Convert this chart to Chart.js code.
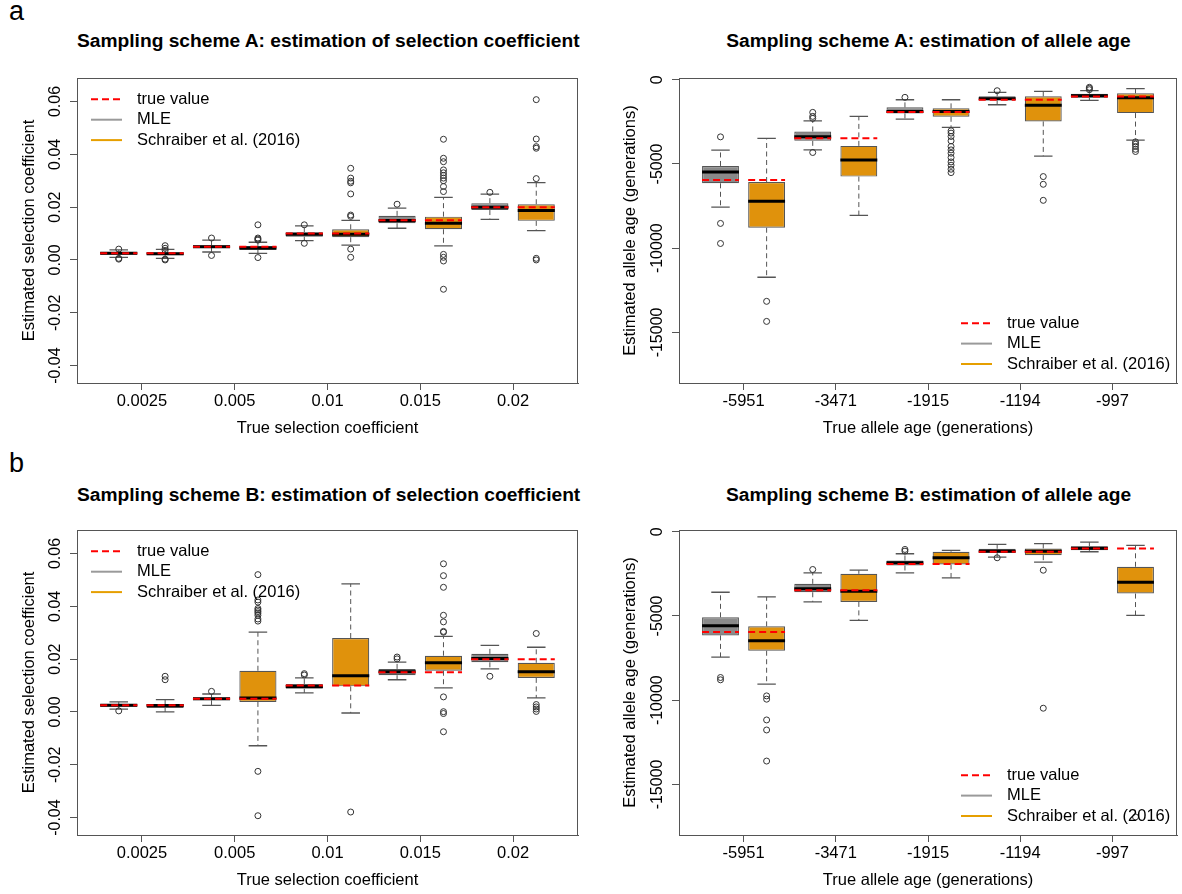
<!DOCTYPE html>
<html>
<head>
<meta charset="utf-8">
<title>Sampling schemes A and B</title>
<script src="https://cdn.jsdelivr.net/npm/chart.js@4.4.0/dist/chart.umd.min.js"></script>
<style>
  html, body { margin: 0; padding: 0; background: #fff; overflow: hidden; }
  #fig { position: relative; width: 1182px; height: 894px; overflow: hidden; font-family: "Liberation Sans", Arial, Helvetica, sans-serif; color: #000; }
  .letter { position: absolute; font-size: 27px; line-height: 27px; }
  .title { position: absolute; font-weight: bold; font-size: 19.2px; line-height: 22px; text-align: center; white-space: nowrap; }
  canvas { position: absolute; }
</style>
</head>
<body>
<div id="fig">
  <div class="letter" style="left:9px;top:-2px">a</div>
  <div class="letter" style="left:9px;top:450px">b</div>

  <div class="title" style="left:77px;width:501px;top:30px">Sampling scheme A: estimation of selection coefficient</div>
  <div class="title" style="left:679px;width:499px;top:30px">Sampling scheme A: estimation of allele age</div>
  <div class="title" style="left:77px;width:501px;top:484px">Sampling scheme B: estimation of selection coefficient</div>
  <div class="title" style="left:679px;width:499px;top:484px">Sampling scheme B: estimation of allele age</div>

  <canvas id="aSel" width="590" height="400" style="left:0;top:60px"></canvas>
  <canvas id="aAge" width="582" height="400" style="left:600px;top:60px"></canvas>
  <canvas id="bSel" width="590" height="400" style="left:0;top:512px"></canvas>
  <canvas id="bAge" width="582" height="400" style="left:600px;top:512px"></canvas>
</div>

<script>
// Categories and tick labels
const selLabels = ["0.0025", "0.005", "0.01", "0.015", "0.02"]
const ageLabels = ["-5951", "-3471", "-1915", "-1194", "-997"]
const selTrue = [0.0025, 0.005, 0.01, 0.015, 0.02]
const ageTrue = [-5951, -3471, -1915, -1194, -997]
const selTicks = [-0.04, -0.02, 0, 0.02, 0.04, 0.06]
const ageTicks = [-15000, -10000, -5000, 0]

// Box summaries per true value: [lower whisker, Q1, median, Q3, upper whisker]
// Scheme A, selection coefficient
const aSelMle = [
  [0.0010, 0.0020, 0.0025, 0.0030, 0.0038],
  [0.0030, 0.0045, 0.0050, 0.0056, 0.0075],
  [0.0073, 0.0088, 0.0097, 0.0105, 0.0129],
  [0.0120, 0.0139, 0.0149, 0.0167, 0.0196],
  [0.0154, 0.0189, 0.0200, 0.0215, 0.0249],
]
const aSelSch = [
  [0.0006, 0.0018, 0.0023, 0.0028, 0.0040],
  [0.0025, 0.0038, 0.0045, 0.0053, 0.0067],
  [0.0056, 0.0086, 0.0097, 0.0116, 0.0150],
  [0.0053, 0.0116, 0.0139, 0.0164, 0.0237],
  [0.0111, 0.0148, 0.0187, 0.0211, 0.0293],
]
const aSelMleOut = [
  [0.0041, 0.0006, 0.0003],
  [0.0083, 0.0017],
  [0.0133, 0.0063],
  [0.0211],
  [0.0256],
]
const aSelSchOut = [
  [0.0054, 0.0044, 0.0036, 0.0003, 0.0000],
  [0.0133, 0.0083, 0.0079, 0.0075, 0.0009],
  [0.0347, 0.0310, 0.0298, 0.0292, 0.0250, 0.0170, 0.0165, 0.0041, 0.0010],
  [0.0457, 0.0385, 0.0372, 0.0341, 0.0330, 0.0320, 0.0310, 0.0300, 0.0278, 0.0259, 0.0021, 0.0010, -0.0004, -0.0111],
  [0.0607, 0.0458, 0.0429, 0.0423, 0.0308, 0.0006, 0.0000],
]

// Scheme A, allele age
const aAgeMle = [
  [-7559, -6149, -5476, -5119, -4184],
  [-4166, -3631, -3393, -3072, -2440],
  [-2339, -2000, -1881, -1643, -1190],
  [-1488, -1226, -1131, -990, -750],
  [-1226, -1071, -952, -833, -655],
]
const aAgeSch = [
  [-11725, -8785, -7220, -6071, -3488],
  [-8053, -5750, -4762, -3928, -2178],
  [-2833, -2202, -1881, -1702, -1190],
  [-4541, -2476, -1524, -990, -690],
  [-3589, -1982, -1071, -809, -536],
]
const aAgeMleOut = [
  [-3393, -8530, -9720],
  [-1940, -2178, -2297, -4321],
  [-1048],
  [-655],
  [-452, -512, -595],
]
const aAgeSchOut = [
  [-13154, -14344],
  [],
  [-3035, -3172, -3369, -3631, -3964, -4166, -4363, -4619, -4881, -5077, -5315, -5514],
  [-5750, -6208, -7160],
  [-3690, -3820, -3964, -4130, -4262],
]

// Scheme B, selection coefficient
const bSelMle = [
  [0.0011, 0.0020, 0.0025, 0.0029, 0.0038],
  [0.0025, 0.0044, 0.0050, 0.0055, 0.0068],
  [0.0072, 0.0088, 0.0096, 0.0106, 0.0129],
  [0.0122, 0.0139, 0.0152, 0.0163, 0.0189],
  [0.0163, 0.0188, 0.0202, 0.0220, 0.0252],
]
const bSelSch = [
  [0.0000, 0.0015, 0.0024, 0.0030, 0.0047],
  [-0.0128, 0.0038, 0.0053, 0.0156, 0.0302],
  [-0.0004, 0.0097, 0.0137, 0.0280, 0.0485],
  [0.0091, 0.0156, 0.0186, 0.0213, 0.0286],
  [0.0053, 0.0129, 0.0152, 0.0186, 0.0245],
]
const bSelMleOut = [
  [0.0004],
  [0.0078],
  [0.0145, 0.0140],
  [0.0208, 0.0201],
  [0.0135],
]
const bSelSchOut = [
  [0.0135, 0.0122],
  [0.0520, 0.0424, 0.0416, 0.0392, 0.0386, 0.0380, 0.0374, 0.0366, 0.0352, 0.0344, -0.0225, -0.0393],
  [-0.0379],
  [0.0561, 0.0516, 0.0472, 0.0366, 0.0341, 0.0305, 0.0302, 0.0057, 0.0001, -0.0006, -0.0075],
  [0.0297, 0.0028, 0.0019, 0.0011, 0.0002],
]

// Scheme B, allele age
const bAgeMle = [
  [-7440, -6155, -5577, -5083, -3595],
  [-4166, -3595, -3393, -3095, -2440],
  [-2440, -2006, -1845, -1708, -1309],
  [-1512, -1250, -1155, -1012, -756],
  [-1190, -1095, -976, -857, -619],
]
const bAgeSch = [
  [-9048, -7065, -6470, -5618, -3869],
  [-5262, -4166, -3535, -2500, -2286],
  [-2738, -1946, -1547, -1190, -1113],
  [-1809, -1393, -1155, -994, -714],
  [-4964, -3672, -3000, -2083, -815],
]
const bAgeMleOut = [
  [-8654, -8791],
  [-2244],
  [-1054, -1155],
  [-1548],
  [],
]
const bAgeSchOut = [
  [-9744, -9940, -11172, -11767, -13612],
  [],
  [],
  [-2286, -10476],
  [-16928],
]

const legendLabels = ["true value", "MLE", "Schraiber et al. (2016)"]

// Styles
const FONT = "'Liberation Sans', Arial, Helvetica, sans-serif"
const GREY = "#8a8a8a"
const ORANGE = "#E0920C"
const EDGE = "#555555"
const HALF = 0.4 // half box width in x units
const CAP = 0.2 // half whisker cap width

// Box frame + legend drawn R-style
const rPlot = {
  id: "rPlot",
  afterDraw(chart, args, opts) {
    const { ctx, chartArea: a } = chart
    ctx.save()
    ctx.strokeStyle = EDGE
    ctx.lineWidth = 1
    ctx.strokeRect(a.left + 0.5, a.top + 0.5, a.right - a.left - 1, a.bottom - a.top)

    const step = 20.4
    const x0 = opts.corner === "topleft" ? a.left + 14 : a.right - 216
    const y0 = opts.corner === "topleft" ? a.top + 21.3 : a.bottom - 19 - 2 * step
    const styles = [
      { color: "#FF0000", dash: [7, 4] },
      { color: "#9a9a9a", dash: [] },
      { color: "#E69F00", dash: [] },
    ]
    ctx.font = `16.5px ${FONT}`
    ctx.textBaseline = "middle"
    legendLabels.forEach((txt, i) => {
      const y = y0 + i * step
      ctx.beginPath()
      ctx.setLineDash(styles[i].dash)
      ctx.strokeStyle = styles[i].color
      ctx.lineWidth = 2
      ctx.moveTo(x0, y)
      ctx.lineTo(x0 + 31, y)
      ctx.stroke()
      ctx.setLineDash([])
      ctx.fillStyle = "#000"
      ctx.fillText(txt, x0 + 46, y)
    })
    ctx.restore()
  },
}

function buildPanel(id, p) {
  const boxes = [], fills = [], whiskers = [], caps = [], medians = [], truths = [], outliers = []
  p.mle.forEach((m, i) => {
    const pairs = [[m, p.mleOut[i], GREY], [p.sch[i], p.schOut[i], ORANGE]]
    pairs.forEach(([b, out, col], k) => {
      const pos = 2 * i + k + 1
      const [lo, q1, med, q3, hi] = b
      boxes.push({ x: pos, y: [q1, q3] })
      fills.push(col)
      whiskers.push({ x: pos, y: q1 }, { x: pos, y: lo }, { x: pos, y: null },
                    { x: pos, y: q3 }, { x: pos, y: hi }, { x: pos, y: null })
      caps.push({ x: pos - CAP, y: lo }, { x: pos + CAP, y: lo }, { x: pos, y: null },
                { x: pos - CAP, y: hi }, { x: pos + CAP, y: hi }, { x: pos, y: null })
      medians.push({ x: pos - HALF, y: med }, { x: pos + HALF, y: med }, { x: pos, y: null })
      truths.push({ x: pos - HALF, y: p.truth[i] }, { x: pos + HALF, y: p.truth[i] }, { x: pos, y: null })
      out.forEach((v) => outliers.push({ x: pos, y: v }))
    })
  })

  // rotated y labels centred 21.5px left of the axis
  const meas = document.createElement("canvas").getContext("2d")
  meas.font = `16px ${FONT}`
  const widest = Math.max(...p.yTicks.map((v) => meas.measureText(p.fmt(v)).width))
  const yPad = 21.5 - 7 - widest / 2

  const lineDs = (data, color, width, dash, order) => ({
    type: "line", data, borderColor: color, borderWidth: width, borderDash: dash,
    pointRadius: 0, fill: false, spanGaps: false, order,
  })

  new Chart(document.getElementById(id), {
    type: "bar",
    data: {
      datasets: [
        {
          type: "bar", data: boxes, backgroundColor: fills, borderColor: EDGE,
          borderWidth: 1.2, borderSkipped: false, barPercentage: 2 * HALF, categoryPercentage: 1, order: 6,
        },
        lineDs(whiskers, EDGE, 1, [5, 3.5], 5),
        lineDs(caps, EDGE, 1.3, [], 4),
        {
          type: "scatter", data: outliers, pointStyle: "circle", pointRadius: 3,
          pointBorderWidth: 1, pointBorderColor: "#333", pointBackgroundColor: "rgba(0,0,0,0)", order: 3,
        },
        lineDs(medians, "#000", 3, [], 2),
        lineDs(truths, "#FF0000", 2, [7, 4], 1),
      ],
    },
    options: {
      responsive: false,
      animation: false,
      events: [],
      layout: { padding: { top: 18, right: p.padRight, left: 0, bottom: 0 } },
      plugins: { legend: { display: false }, tooltip: { enabled: false }, rPlot: { corner: p.corner } },
      scales: {
        x: {
          type: "linear", min: 0.1, max: 10.9, offset: false,
          afterBuildTicks: (s) => { s.ticks = p.labels.map((_, i) => ({ value: 2 * i + 1.5 })) },
          afterFit: (s) => { s.height = 77 },
          ticks: {
            callback: (v, i) => p.labels[i], font: { family: FONT, size: 16.5 }, color: "#000",
            padding: 2, maxRotation: 0, autoSkip: false,
          },
          grid: { display: true, drawOnChartArea: false, offset: false, tickLength: 7, color: EDGE },
          border: { color: EDGE },
          title: {
            display: true, text: p.xTitle, color: "#000",
            font: { family: FONT, size: 16.5 }, padding: { top: 0, bottom: 21.6 },
          },
        },
        y: {
          min: p.yMin, max: p.yMax,
          afterBuildTicks: (s) => { s.ticks = p.yTicks.map((v) => ({ value: v })) },
          afterFit: (s) => { s.width = p.yWidth },
          ticks: {
            callback: (v) => p.fmt(v), font: { family: FONT, size: 16 }, color: "#000",
            minRotation: 90, maxRotation: 90, crossAlign: "center", padding: yPad, autoSkip: false,
          },
          grid: { display: true, drawOnChartArea: false, tickLength: 7, color: EDGE },
          border: { color: EDGE },
          title: {
            display: true, text: p.yTitle, color: "#000",
            font: { family: FONT, size: 16.5 }, padding: { top: p.yTitlePad, bottom: 0 },
          },
        },
      },
    },
    plugins: [rPlot],
  })
}

const selPanel = {
  labels: selLabels, truth: selTrue, yTicks: selTicks, yMin: -0.0466, yMax: 0.0689,
  fmt: (v) => v.toFixed(2), xTitle: "True selection coefficient", yTitle: "Estimated selection coefficient",
  yWidth: 77, padRight: 12, yTitlePad: 19.3, corner: "topleft",
}
const agePanel = {
  labels: ageLabels, truth: ageTrue, yTicks: ageTicks, yMin: -18000, yMax: 100,
  fmt: (v) => String(v), xTitle: "True allele age (generations)", yTitle: "Estimated allele age (generations)",
  yWidth: 79, padRight: 4, yTitlePad: 20.6, corner: "bottomright",
}

document.addEventListener("DOMContentLoaded", () => {
  buildPanel("aSel", { ...selPanel, mle: aSelMle, sch: aSelSch, mleOut: aSelMleOut, schOut: aSelSchOut })
  buildPanel("aAge", { ...agePanel, mle: aAgeMle, sch: aAgeSch, mleOut: aAgeMleOut, schOut: aAgeSchOut })
  buildPanel("bSel", { ...selPanel, mle: bSelMle, sch: bSelSch, mleOut: bSelMleOut, schOut: bSelSchOut })
  buildPanel("bAge", { ...agePanel, mle: bAgeMle, sch: bAgeSch, mleOut: bAgeMleOut, schOut: bAgeSchOut })
})
</script>
</body>
</html>
